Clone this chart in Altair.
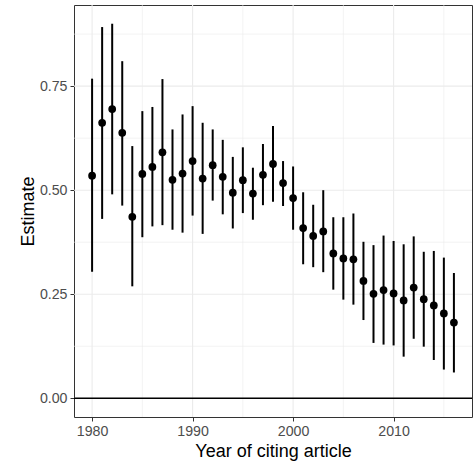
import altair as alt
import pandas as pd

# Yearly estimates with their confidence bounds
years = list(range(1980, 2017))
estimate = [0.535, 0.662, 0.695, 0.638, 0.436, 0.539, 0.556, 0.591, 0.525, 0.540,
            0.570, 0.528, 0.560, 0.532, 0.494, 0.524, 0.492, 0.537, 0.563, 0.517,
            0.481, 0.409, 0.390, 0.401, 0.348, 0.336, 0.334, 0.282, 0.251, 0.260,
            0.252, 0.235, 0.266, 0.238, 0.223, 0.204, 0.182]
lower = [0.304, 0.431, 0.490, 0.463, 0.269, 0.387, 0.413, 0.416, 0.405, 0.398,
         0.439, 0.395, 0.475, 0.442, 0.408, 0.445, 0.429, 0.464, 0.472, 0.462,
         0.405, 0.322, 0.315, 0.303, 0.261, 0.237, 0.225, 0.188, 0.133, 0.129,
         0.127, 0.100, 0.143, 0.124, 0.092, 0.069, 0.062]
upper = [0.768, 0.892, 0.900, 0.810, 0.606, 0.690, 0.700, 0.767, 0.646, 0.682,
         0.702, 0.662, 0.646, 0.621, 0.580, 0.603, 0.554, 0.611, 0.654, 0.570,
         0.557, 0.495, 0.465, 0.500, 0.435, 0.435, 0.444, 0.376, 0.368, 0.391,
         0.378, 0.370, 0.389, 0.352, 0.354, 0.338, 0.301]

x_major = [1980, 1990, 2000, 2010]
x_minor = [1985, 1995, 2005, 2015]
y_major = [0.0, 0.25, 0.50, 0.75]
y_minor = [0.125, 0.375, 0.625, 0.875]
reference = [0.0]

df = pd.DataFrame({"year": years, "estimate": estimate, "lower": lower, "upper": upper})

x_scale = alt.Scale(domain=[1978.2, 2017.8], nice=False, zero=False)
y_scale = alt.Scale(domain=[-0.045, 0.945], nice=False, zero=False)

x_axis = alt.Axis(values=x_major, format="d", title="Year of citing article",
                  grid=False, domain=False, labelPadding=3, titlePadding=4)
y_axis = alt.Axis(values=y_major, format=".2f", title="Estimate",
                  grid=False, domain=False, labelPadding=3, titlePadding=2)

grid_color = "#EBEBEB"


def vgrid(values, width):
    return alt.Chart(pd.DataFrame({"year": values})).mark_rule(
        color=grid_color, strokeWidth=width
    ).encode(x=alt.X("year:Q", scale=x_scale, axis=x_axis))


def hgrid(values, width):
    return alt.Chart(pd.DataFrame({"value": values})).mark_rule(
        color=grid_color, strokeWidth=width
    ).encode(y=alt.Y("value:Q", scale=y_scale, axis=y_axis))


zero_line = alt.Chart(pd.DataFrame({"value": reference})).mark_rule(
    color="black", strokeWidth=1.5
).encode(y=alt.Y("value:Q", scale=y_scale, axis=y_axis))

base = alt.Chart(df)

bars = base.mark_rule(color="black", strokeWidth=2).encode(
    x=alt.X("year:Q", scale=x_scale, axis=x_axis),
    y=alt.Y("lower:Q", scale=y_scale, axis=y_axis),
    y2="upper:Q",
)

points = base.mark_circle(color="black", opacity=1, size=60).encode(
    x=alt.X("year:Q", scale=x_scale, axis=x_axis),
    y=alt.Y("estimate:Q", scale=y_scale, axis=y_axis),
)

chart = alt.layer(
    vgrid(x_minor, 0.6), hgrid(y_minor, 0.6),
    vgrid(x_major, 1.1), hgrid(y_major, 1.1),
    zero_line, bars, points,
).properties(
    width=398,
    height=412,
    autosize=alt.AutoSizeParams(type="none"),
    padding={"left": 74, "top": 5, "right": 3, "bottom": 51},
).configure_view(
    stroke="#333333", strokeWidth=1
).configure_axis(
    labelFont="Liberation Sans",
    labelFontSize=14.2,
    labelColor="#4D4D4D",
    tickColor="#333333",
    tickSize=4,
    tickWidth=1,
    titleFont="Liberation Sans",
    titleFontSize=18,
    titleFontWeight="normal",
    titleColor="black",
)

chart.save("out.html", embed_options={"renderer": "svg", "actions": False})
